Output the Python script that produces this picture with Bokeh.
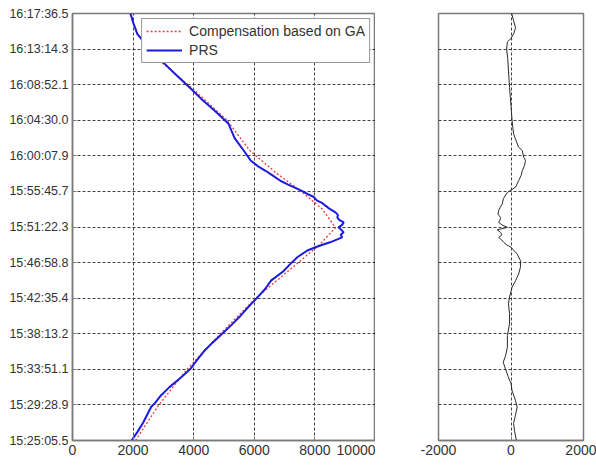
from bokeh.plotting import figure
from bokeh.layouts import row
from bokeh.models import FixedTicker, Label, Legend, LegendItem
from bokeh.embed import file_html
from bokeh.resources import INLINE

# Time axis: tick positions (tick index) and their clock labels
time_ticks = list(range(13))
time_labels = ["15:25:05.5", "15:29:28.9", "15:33:51.1", "15:38:13.2",
               "15:42:35.4", "15:46:58.8", "15:51:22.3", "15:55:45.7",
               "16:00:07.9", "16:04:30.0", "16:08:52.1", "16:13:14.3",
               "16:17:36.5"]

range_ticks = [0, 2000, 4000, 6000, 8000, 10000]
error_ticks = [-2000, 0, 2000]
error_tick_labels = ["-2000", "0", "2000"]

# PRS measured range (m) against time (tick index)
prs_t = [0.00, 0.25, 0.50, 0.75, 0.95, 1.05, 1.25, 1.50, 1.75, 2.00,
         2.25, 2.50, 2.75, 3.00, 3.25, 3.50, 3.75, 4.00, 4.25, 4.50,
         4.75, 4.97, 5.15, 5.34, 5.43, 5.50, 5.57, 5.64, 5.71, 5.78,
         5.85, 5.92, 5.99, 6.06, 6.13, 6.20, 6.27, 6.34, 6.41, 6.50,
         6.60, 6.67, 6.74, 6.85, 6.93, 7.02, 7.12, 7.20, 7.30, 7.45,
         7.58, 7.72, 7.87, 8.15, 8.50, 8.90, 9.30, 9.60, 9.89, 10.25,
         10.62, 11.00, 11.43, 11.75, 12.00]
prs_range = [1950, 2150, 2330, 2480, 2600, 2720, 2900, 3200, 3550, 3880,
             4100, 4330, 4620, 4940, 5250, 5540, 5800, 6080, 6350, 6560,
             6950, 7200, 7420, 7750, 8020, 8250, 8500, 8700, 8900, 8850,
             8950, 8870, 8780, 8900, 8950, 8800, 8740, 8760, 8680, 8500,
             8350, 8250, 8075, 7950, 7750, 7550, 7300, 7100, 6860, 6600,
             6370, 6100, 5880, 5650, 5350, 5150, 4650, 4250, 3900, 3450,
             3000, 2550, 2135, 2000, 1914]

# Range compensated with the GA model (m)
ga_t = [0.00, 1.00, 2.00, 3.00, 4.00, 5.00, 5.50, 5.98, 6.50, 7.00,
        7.50, 8.15, 9.00, 9.90, 10.62, 11.43, 12.00]
ga_range = [2080, 2850, 3780, 4880, 6050, 7450, 8150, 8680, 8250, 7550,
            6750, 5850, 5100, 3950, 2950, 2150, 1900]

# Difference between the two range estimates (m)
err_t = [0.00, 0.25, 0.48, 0.70, 0.94, 1.12, 1.40, 1.60, 1.80, 2.00,
         2.20, 2.38, 2.62, 2.95, 3.28, 3.56, 3.84, 4.03, 4.31, 4.49,
         4.68, 4.87, 5.06, 5.24, 5.43, 5.50, 5.57, 5.64, 5.71, 5.78,
         5.85, 5.92, 5.99, 6.06, 6.13, 6.20, 6.27, 6.36, 6.46, 6.55,
         6.65, 6.80, 6.97, 7.12, 7.30, 7.45, 7.58, 7.72, 7.87, 7.96,
         8.15, 8.24, 8.62, 8.99, 9.40, 9.92, 10.30, 10.73, 11.00, 11.20,
         11.30, 11.45, 11.60, 11.80, 12.00]
err_val = [150, 100, 70, 120, 170, 125, 30, 0, -80, -150,
           -215, -150, -100, -100, -40, -40, -70, -40, 30, 125,
           210, 260, 260, 170, 0, -120, -200, -260, -340, -250,
           -290, -380, -100, -250, -340, -300, -290, -360, -340, -300,
           -240, -210, -100, 125, 210, 280, 310, 370, 400, 350,
           310, 210, 70, 30, 0, -40, -65, -90, -120, -100,
           0, 80, 125, 70, 20]

FONT = "Liberation Sans"
TEXT = "#333333"
FRAME = "#7a7a7a"


def style(p, xticks):
    p.background_fill_color = "white"
    p.border_fill_color = "white"
    p.outline_line_color = FRAME
    p.outline_line_width = 1.5
    p.xaxis.ticker = FixedTicker(ticks=xticks)
    p.yaxis.ticker = FixedTicker(ticks=time_ticks)
    p.xgrid.ticker = FixedTicker(ticks=xticks)
    p.ygrid.ticker = FixedTicker(ticks=time_ticks)
    for ax in (p.xaxis[0], p.yaxis[0]):
        ax.axis_line_color = FRAME
        ax.axis_line_width = 1.5
        ax.major_tick_in = 4
        ax.major_tick_out = 0
        ax.major_tick_line_color = FRAME
        ax.minor_tick_line_color = None
        ax.major_label_text_font = FONT
        ax.major_label_text_color = TEXT
        ax.major_label_standoff = 4
    p.xaxis.major_label_text_font_size = "14px"
    p.yaxis.major_label_text_font_size = "12.5px"
    for g in (p.xgrid[0], p.ygrid[0]):
        g.grid_line_color = "#222222"
        g.grid_line_dash = "3 2"
        g.grid_line_width = 1
        g.grid_line_alpha = 0.85


# Left panel: range against time
p1 = figure(output_backend="svg", toolbar_location=None,
            frame_width=303, frame_height=427,
            min_border_left=72, min_border_right=0,
            min_border_top=13, min_border_bottom=28,
            x_range=(0, 10000), y_range=(0, 12))
style(p1, range_ticks)
p1.yaxis.major_label_overrides = {t: s for t, s in zip(time_ticks, time_labels)}

r_ga = p1.line(ga_range, ga_t, line_color="#ee3b3b", line_width=1.3,
               line_dash="2 2")
r_prs = p1.line(prs_range, prs_t, line_color="#1a1ae0", line_width=2)

legend = Legend(items=[LegendItem(label="Compensation based on GA", renderers=[r_ga]),
                       LegendItem(label="PRS", renderers=[r_prs])],
                location="top_right", margin=5, padding=4, spacing=3,
                glyph_width=36, glyph_height=16, label_height=16,
                label_standoff=7, label_text_font=FONT,
                label_text_font_size="14px", label_text_color=TEXT,
                border_line_color="#333333", border_line_width=1,
                background_fill_color="white", background_fill_alpha=1)
p1.add_layout(legend)

p1.add_layout(Label(x=5000, y=-0.93, text="Range (m)", text_align="center",
                    text_baseline="alphabetic", text_font=FONT,
                    text_font_size="14px", text_color=TEXT))

# Right panel: error against time (shares the time grid, no time labels)
p2 = figure(output_backend="svg", toolbar_location=None,
            frame_width=145, frame_height=427,
            min_border_left=63, min_border_right=13,
            min_border_top=13, min_border_bottom=28,
            x_range=(-2000, 2000), y_range=(0, 12))
style(p2, error_ticks)
p2.xaxis.major_label_overrides = {t: s for t, s in zip(error_ticks, error_tick_labels)}
p2.yaxis.visible = False

p2.line(err_val, err_t, line_color="#2a2a2a", line_width=1)

p2.add_layout(Label(x=0, y=12.25, text="Error Range", text_align="center",
                    text_baseline="alphabetic", text_font=FONT,
                    text_font_size="14px", text_color=TEXT))
p2.add_layout(Label(x=0, y=-0.9, text="m", text_align="center",
                    text_baseline="alphabetic", text_font=FONT,
                    text_font_size="14px", text_color=TEXT))

layout = row(p1, p2, spacing=0)

open("out.html", "w").write(file_html(layout, INLINE))
